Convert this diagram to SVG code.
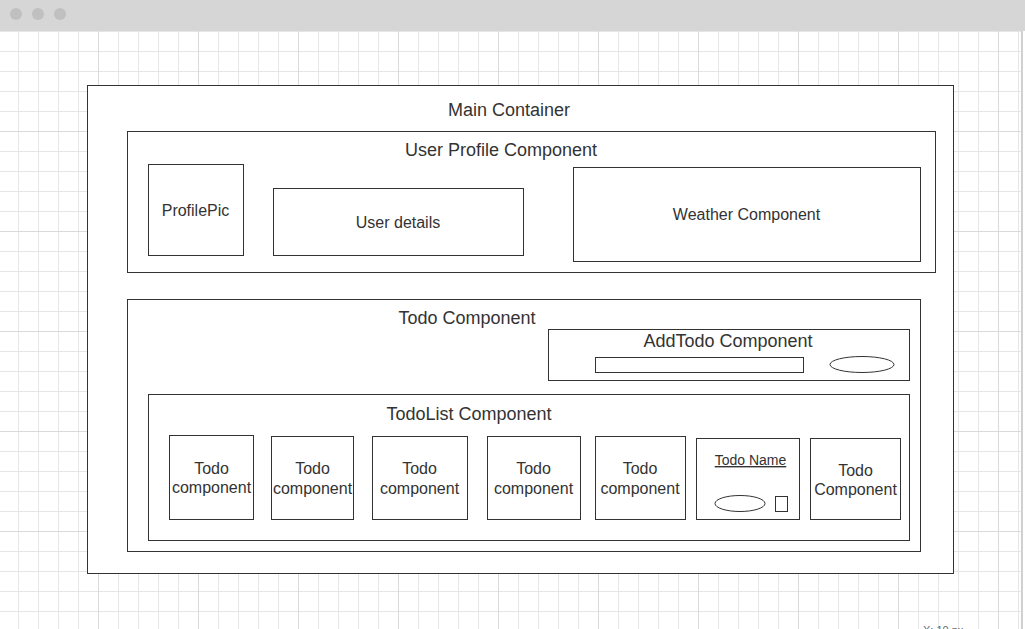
<svg xmlns="http://www.w3.org/2000/svg" width="1025" height="629" viewBox="0 0 1025 629">
<defs>
<pattern id="grid" x="18" y="11" width="20" height="20" patternUnits="userSpaceOnUse">
<path d="M0.5 0V20M0 0.5H20" fill="none" stroke="#e6e6e6" stroke-width="1"/>
</pattern>
<style>
.box{fill:#fff;stroke:#333;stroke-width:1}
.sm{fill:none;stroke:#333;stroke-width:1}
.t{font-family:"Liberation Sans",Arial,sans-serif;fill:#333;text-anchor:middle}
.h18{font-size:18px}
.h16{font-size:16px}
.h14{font-size:14px}
</style>
</defs>
<rect width="1025" height="629" fill="#fff"/>
<rect x="0" y="31" width="1025" height="598" fill="url(#grid)"/>
<g stroke="#dadada" stroke-width="1">
<path d="M98.5 31V629M198.5 31V629M298.5 31V629M398.5 31V629M498.5 31V629M598.5 31V629M698.5 31V629M798.5 31V629M898.5 31V629M998.5 31V629"/>
<path d="M0 131.5H1025M0 231.5H1025M0 331.5H1025M0 431.5H1025M0 531.5H1025"/>
</g>
<rect x="1021" y="31" width="2" height="598" fill="#d0d0d0"/>
<rect x="1023" y="31" width="2" height="598" fill="#fff"/>
<rect x="0" y="0" width="1025" height="31" fill="#d6d6d6"/>
<circle cx="16" cy="14" r="6" fill="#c0c0c0"/>
<circle cx="38" cy="14" r="6" fill="#c0c0c0"/>
<circle cx="60" cy="14" r="6" fill="#c0c0c0"/>

<g id="main-container">
<rect class="box" x="87.5" y="85.5" width="866" height="488"/>
<text class="t h18" x="509" y="116">Main Container</text>
</g>
<g id="user-profile">
<rect class="box" x="127.5" y="131.5" width="808" height="141"/>
<text class="t h18" x="501" y="156">User Profile Component</text>
</g>
<g id="profile-pic">
<rect class="box" x="148.5" y="164.5" width="95" height="91"/>
<text class="t h16" x="195.5" y="216">ProfilePic</text>
</g>
<g id="user-details">
<rect class="box" x="273.5" y="188.5" width="250" height="67"/>
<text class="t h16" x="398" y="228">User details</text>
</g>
<g id="weather">
<rect class="box" x="573.5" y="167.5" width="347" height="94"/>
<text class="t h16" x="746.5" y="220">Weather Component</text>
</g>
<g id="todo-component">
<rect class="box" x="127.5" y="299.5" width="793" height="252"/>
<text class="t h18" x="467" y="324">Todo Component</text>
</g>
<g id="addtodo">
<rect class="box" x="548.5" y="329.5" width="361" height="51"/>
<text class="t h18" x="728" y="347">AddTodo Component</text>
<rect class="sm" x="595.5" y="357.5" width="208" height="15"/>
<ellipse class="sm" cx="862" cy="364.5" rx="32" ry="8"/>
</g>
<g id="todolist">
<rect class="box" x="148.5" y="394.5" width="761" height="146"/>
<text class="t h18" x="469" y="420">TodoList Component</text>
</g>
<g id="todo1">
<rect class="box" x="169.5" y="435.5" width="84" height="84"/>
<text class="t h16" x="211.5" y="474">Todo</text>
<text class="t h16" x="211.5" y="493">component</text>
</g>
<g id="todo2">
<rect class="box" x="271.5" y="436.5" width="82" height="83"/>
<text class="t h16" x="312.5" y="474">Todo</text>
<text class="t h16" x="312.5" y="494">component</text>
</g>
<g id="todo3">
<rect class="box" x="372.5" y="436.5" width="95" height="83"/>
<text class="t h16" x="419.5" y="474">Todo</text>
<text class="t h16" x="419.5" y="494">component</text>
</g>
<g id="todo4">
<rect class="box" x="487.5" y="436.5" width="93" height="83"/>
<text class="t h16" x="533.5" y="474">Todo</text>
<text class="t h16" x="533.5" y="494">component</text>
</g>
<g id="todo5">
<rect class="box" x="595.5" y="436.5" width="90" height="83"/>
<text class="t h16" x="640" y="474">Todo</text>
<text class="t h16" x="640" y="494">component</text>
</g>
<g id="todo6">
<rect class="box" x="696.5" y="438.5" width="103" height="81"/>
<text class="t h14" x="750.5" y="465" text-decoration="underline">Todo Name</text>
<ellipse class="sm" cx="740" cy="503.5" rx="25" ry="8"/>
<rect class="sm" x="775.5" y="496.5" width="12" height="15"/>
</g>
<g id="todo7">
<rect class="box" x="810.5" y="438.5" width="90" height="81"/>
<text class="t h16" x="855.5" y="476">Todo</text>
<text class="t h16" x="855.5" y="495">Component</text>
</g>
<g id="connectors"></g>
<text x="923" y="634" font-family="Liberation Sans,Arial,sans-serif" font-size="11" fill="#666">X: 10 px</text>
</svg>
